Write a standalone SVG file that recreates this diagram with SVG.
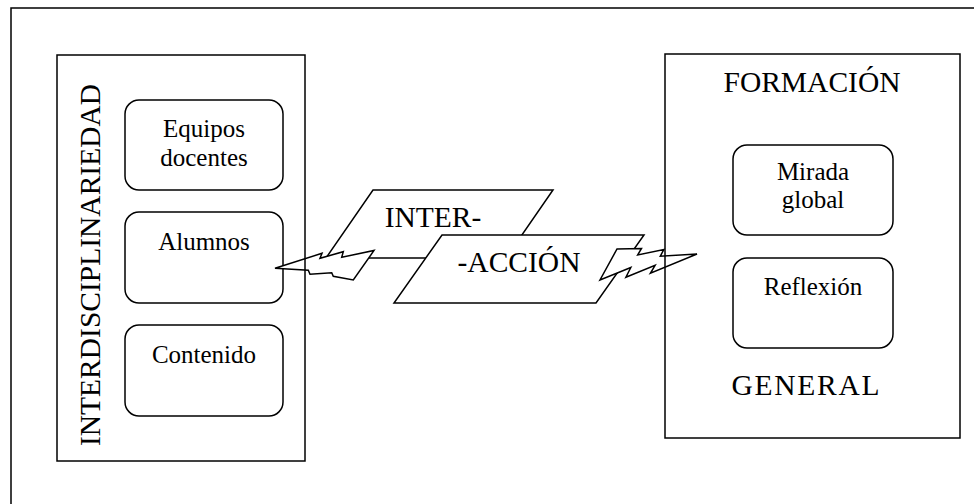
<svg xmlns="http://www.w3.org/2000/svg" width="974" height="504" viewBox="0 0 974 504">
<style>
  .box { fill: #fff; stroke: #000; stroke-width: 1.5; }
  .frame { fill: none; stroke: #000; stroke-width: 1.5; }
  .bolt { fill: #fff; stroke: #000; stroke-width: 1.5; stroke-linejoin: miter; }
  .t { font-family: "Liberation Serif", "Times New Roman", serif; fill: #000; text-anchor: middle; }
  .s { font-size: 25px; }
  .l { font-size: 29.5px; }
</style>
<rect x="0" y="0" width="974" height="504" fill="#fff"/>
<rect id="outer-frame" class="frame" x="11" y="8" width="1000" height="600"/>

<g id="equipos">
  <rect class="box" x="125" y="100" width="158" height="90" rx="14"/>
  <text class="t s" x="204" y="137">Equipos</text>
  <text class="t s" x="204" y="166">docentes</text>
</g>
<g id="alumnos">
  <rect class="box" x="125" y="212" width="158" height="91" rx="14"/>
  <text class="t s" x="204" y="250">Alumnos</text>
</g>
<g id="contenido">
  <rect class="box" x="125" y="325" width="158" height="91" rx="14"/>
  <text class="t s" x="204" y="363">Contenido</text>
</g>
<g id="mirada">
  <rect class="box" x="733" y="145" width="160" height="90" rx="14"/>
  <text class="t s" x="813" y="180">Mirada</text>
  <text class="t s" x="813" y="208">global</text>
</g>
<g id="reflexion">
  <rect class="box" x="733" y="258" width="160" height="90" rx="14"/>
  <text class="t s" x="813" y="295">Reflexión</text>
</g>

<g id="inter">
  <polygon class="box" points="373,190 553,190 506,258 326,258"/>
  <text class="t l" x="433" y="227">INTER-</text>
</g>
<g id="accion">
  <polygon class="box" points="442,235 644,235 596,303 394,303"/>
  <text class="t l" x="519" y="272">-ACCIÓN</text>
</g>

<g id="connectors">
  <polygon class="bolt" points="275,268.3 322,253.3 320,258.3 343.3,251.7 341.7,257.3 374,250.5 353.3,280 333.3,276.3 331.7,272.7 310,274.3 308.3,270.3"/>
  <polygon class="bolt" points="617,249 641.5,248.5 637.7,254.9 663.8,249.6 660.3,256.2 697,254 650.4,273.3 655.1,265.4 625.9,277.2 630.8,267.5 600,280"/>
</g>

<g id="interdisciplinariedad">
  <rect class="frame" x="57" y="55" width="248" height="406"/>
  <text class="t l" transform="translate(100,265) rotate(-90)" x="0" y="0">INTERDISCIPLINARIEDAD</text>
</g>
<g id="formacion-general">
  <rect class="frame" x="665" y="54" width="295" height="384"/>
  <text class="t l" x="812" y="92">FORMACIÓN</text>
  <text class="t l" x="805.5" y="395" textLength="148" lengthAdjust="spacing">GENERAL</text>
</g>
</svg>
